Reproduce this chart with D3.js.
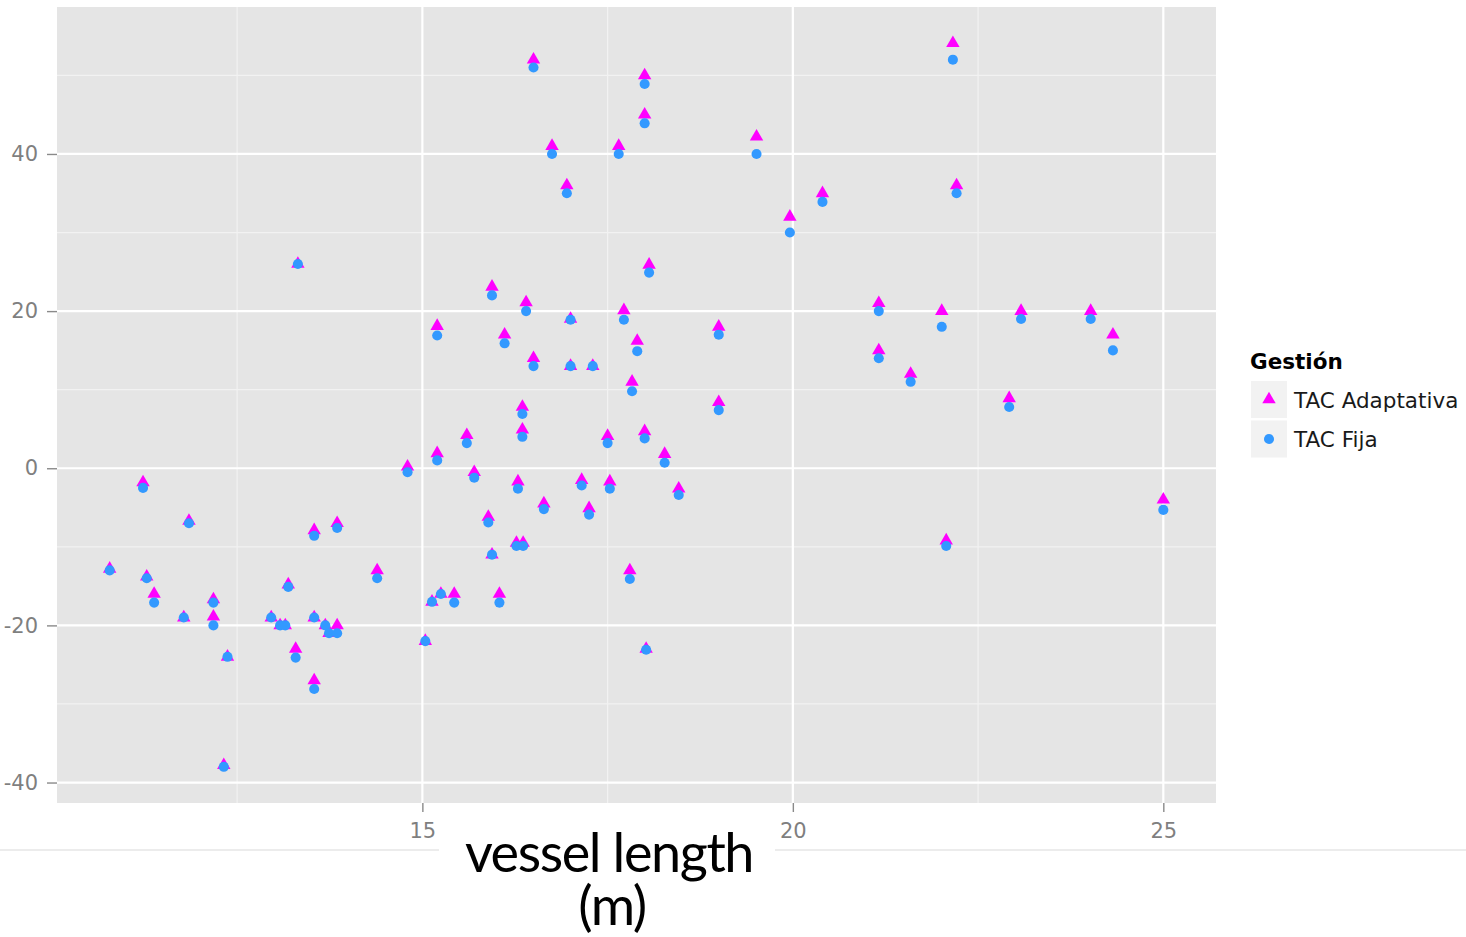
<!DOCTYPE html>
<html>
<head>
<meta charset="utf-8">
<script src="https://cdn.jsdelivr.net/npm/d3@7"></script>
<style>
  body { margin: 0; background: #fff; }
  svg { display: block; }
</style>
</head>
<body>
<svg id="scatterplot" width="1466" height="937"></svg>
<script>
// vessel length (m) for each vessel
const vesselLength = [
  10.78, 11.23, 11.28, 11.38, 11.78, 11.85, 12.18, 12.18, 12.32, 12.37,
  12.96, 13.08, 13.15, 13.19, 13.29, 13.32, 13.54, 13.54, 13.54, 13.69,
  13.74, 13.85, 13.85, 14.39, 14.80, 15.04, 15.13, 15.20, 15.20, 15.25,
  15.43, 15.60, 15.70, 15.89, 15.94, 15.94, 16.04, 16.11, 16.27, 16.29,
  16.35, 16.35, 16.36, 16.40, 16.50, 16.50, 16.64, 16.75, 16.95, 17.00,
  17.00, 17.15, 17.25, 17.30, 17.50, 17.53, 17.65, 17.72, 17.80, 17.83,
  17.90, 18.00, 18.00, 18.00, 18.02, 18.06, 18.27, 18.46, 19.00, 19.00,
  19.51, 19.96, 20.40, 21.16, 21.16, 21.59, 22.01, 22.07, 22.16, 22.21,
  22.92, 23.08, 24.02, 24.32, 25.00
];

// TAC Adaptativa values
const tacAdaptativa = [
  -12.8, -1.8, -13.8, -16.0, -19.0, -6.7, -16.7, -18.9, -37.8, -24.0,
  -19.0, -20.0, -20.0, -14.8, -23.0, 26.0, -7.9, -27.0, -19.0, -20.0,
  -21.0, -20.0, -7.0, -13.0, 0.2, -22.0, -17.0, 18.1, 1.9, -16.0,
  -16.0, 4.2, -0.5, -6.2, 23.1, -11.0, -16.0, 17.0, -9.5, -1.7,
  7.8, 4.9, -9.5, 21.1, 52.0, 14.0, -4.5, 41.0, 36.0, 19.0,
  13.0, -1.5, -5.1, 13.0, 4.1, -1.7, 41.0, 20.1, -13.0, 11.0,
  16.2, 50.0, 45.0, 4.7, -23.0, 25.9, 1.8, -2.6, 18.0, 8.4,
  42.2, 32.0, 35.0, 21.0, 15.0, 12.0, 20.0, -9.2, 54.1, 36.0,
  8.9, 20.0, 20.0, 17.0, -4.0
];

// TAC Fija values
const tacFija = [
  -13.0, -2.5, -14.0, -17.1, -19.0, -7.0, -17.1, -20.0, -38.0, -24.0,
  -19.0, -20.0, -20.0, -15.1, -24.1, 26.0, -8.6, -28.1, -19.0, -20.0,
  -21.0, -21.0, -7.6, -14.0, -0.5, -22.0, -17.0, 16.9, 1.0, -16.0,
  -17.1, 3.2, -1.2, -6.9, 22.0, -11.0, -17.1, 15.9, -9.9, -2.6,
  6.9, 4.0, -9.9, 20.0, 51.0, 13.0, -5.2, 40.0, 35.0, 18.9,
  13.0, -2.2, -5.9, 13.0, 3.2, -2.6, 40.0, 18.9, -14.1, 9.8,
  14.9, 48.9, 43.9, 3.8, -23.1, 24.9, 0.7, -3.4, 17.0, 7.4,
  40.0, 30.0, 33.9, 20.0, 14.0, 11.0, 18.0, -9.9, 52.0, 35.0,
  7.8, 19.0, 19.0, 15.0, -5.3
];

const seriesNames = ["TAC Adaptativa", "TAC Fija"];
const xTicks = [15, 20, 25];
const xMinor = [12.5, 17.5, 22.5];
const yTicks = [-40, -20, 0, 20, 40];
const yMinor = [-30, -10, 10, 30, 50];

const svg = d3.select("#scatterplot"),
    panel = {left: 57, right: 1216, top: 7, bottom: 803};

// ggplot style 5% expansion on both axes
const expand = (ext) => {
    const pad = (ext[1] - ext[0]) * 0.05;
    return [ext[0] - pad, ext[1] + pad];
};
const allY = tacAdaptativa.concat(tacFija);

const xScale = d3.scaleLinear()
    .domain(expand(d3.extent(vesselLength)))
    .range([panel.left, panel.right]);
const yScale = d3.scaleLinear()
    .domain(expand(d3.extent(allY)))
    .range([panel.bottom, panel.top]);

// panel background
svg.append("rect")
    .attr("x", panel.left)
    .attr("y", panel.top)
    .attr("width", panel.right - panel.left)
    .attr("height", panel.bottom - panel.top)
    .attr("fill", "#e5e5e5");

const grid = svg.append("g");
grid.selectAll(".vminor").data(xMinor).enter().append("line")
    .attr("x1", d => xScale(d)).attr("x2", d => xScale(d))
    .attr("y1", panel.top).attr("y2", panel.bottom)
    .attr("stroke", "#f2f2f2").attr("stroke-width", 1.2);
grid.selectAll(".hminor").data(yMinor).enter().append("line")
    .attr("x1", panel.left).attr("x2", panel.right)
    .attr("y1", d => yScale(d)).attr("y2", d => yScale(d))
    .attr("stroke", "#f2f2f2").attr("stroke-width", 1.2);
grid.selectAll(".vmajor").data(xTicks).enter().append("line")
    .attr("x1", d => xScale(d)).attr("x2", d => xScale(d))
    .attr("y1", panel.top).attr("y2", panel.bottom)
    .attr("stroke", "#ffffff").attr("stroke-width", 2.2);
grid.selectAll(".hmajor").data(yTicks).enter().append("line")
    .attr("x1", panel.left).attr("x2", panel.right)
    .attr("y1", d => yScale(d)).attr("y2", d => yScale(d))
    .attr("stroke", "#ffffff").attr("stroke-width", 2.2);

// axes (plain hyphen minus like R prints it)
const xAxis = d3.axisBottom(xScale).tickValues(xTicks).tickSize(9).tickPadding(11)
    .tickFormat(d => String(d));
const yAxis = d3.axisLeft(yScale).tickValues(yTicks).tickSize(10).tickPadding(9)
    .tickFormat(d => String(d));

const styleAxis = g => {
    g.select(".domain").remove();
    g.selectAll(".tick line").attr("stroke", "#8a8a8a").attr("stroke-width", 1.4);
    g.selectAll(".tick text")
        .attr("fill", "#7f7f7f")
        .style("font-family", "DejaVu Sans")
        .style("font-size", "21px");
};

svg.append("g")
    .attr("transform", `translate(0,${panel.bottom})`)
    .call(xAxis)
    .call(styleAxis);

svg.append("g")
    .attr("transform", `translate(${panel.left},0)`)
    .call(yAxis)
    .call(styleAxis);

// points: triangles first, circles over them
const points = vesselLength.map((x, i) => ({x: x, a: tacAdaptativa[i], f: tacFija[i]}));
const triangle = d3.symbol().type(d3.symbolTriangle).size(78);
const circle = d3.symbol().type(d3.symbolCircle).size(80);

svg.append("g").selectAll("path")
    .data(points).enter().append("path")
    .attr("d", triangle)
    .attr("transform", d => `translate(${xScale(d.x)},${yScale(d.a)})`)
    .attr("fill", "#ff00ff");

svg.append("g").selectAll("path")
    .data(points).enter().append("path")
    .attr("d", circle)
    .attr("transform", d => `translate(${xScale(d.x)},${yScale(d.f)})`)
    .attr("fill", "#3399ff");

// legend
const legend = svg.append("g").attr("transform", "translate(1250,0)");
legend.append("text")
    .attr("x", 0).attr("y", 369)
    .style("font-family", "DejaVu Sans")
    .style("font-size", "21.5px")
    .style("font-weight", "bold")
    .text("Gestión");

const keys = legend.selectAll(".key")
    .data(seriesNames).enter().append("g")
    .attr("transform", (d, i) => `translate(0,${381 + i * 39.5})`);
keys.append("rect")
    .attr("x", 1).attr("width", 36).attr("height", 37)
    .attr("fill", "#f2f2f2");
keys.append("path")
    .attr("d", (d, i) => i === 0 ? triangle() : circle())
    .attr("transform", "translate(19,18.5)")
    .attr("fill", (d, i) => i === 0 ? "#ff00ff" : "#3399ff");
keys.append("text")
    .attr("x", 44).attr("y", 26.5)
    .style("font-family", "DejaVu Sans")
    .style("font-size", "21.5px")
    .attr("fill", "#1a1a1a")
    .text(d => d);

// x axis title sits in a white box over a thin rule
svg.append("line")
    .attr("x1", 0).attr("x2", 1466)
    .attr("y1", 850).attr("y2", 850)
    .attr("stroke", "#ececec").attr("stroke-width", 2);
svg.append("rect")
    .attr("x", 439).attr("y", 840)
    .attr("width", 336).attr("height", 97)
    .attr("fill", "#ffffff");

const title = svg.append("text")
    .attr("text-anchor", "middle")
    .style("font-family", "Lato")
    .style("font-size", "54px")
    .style("letter-spacing", "-1.4px")
    .attr("fill", "#000");
title.append("tspan").attr("x", 609).attr("y", 872).text("vessel length");
title.append("tspan").attr("x", 612).attr("y", 925).text("(m)");
</script>
</body>
</html>
